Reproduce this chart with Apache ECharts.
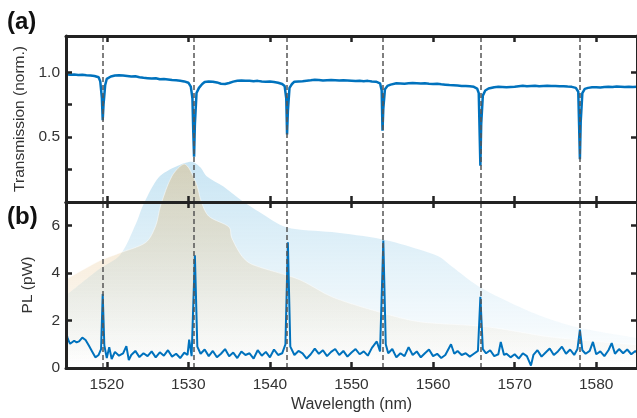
<!DOCTYPE html>
<html>
<head>
<meta charset="utf-8">
<script src="https://cdn.jsdelivr.net/npm/echarts@6/dist/echarts.min.js"></script>
<style>
html, body { margin: 0; padding: 0; background: #fff; }
#chart { width: 637px; height: 418px; }
</style>
</head>
<body>
<div id="chart"></div>
<script>
// resonance wavelengths (nm), dashed guides
var resonances = [1519.5, 1530.7, 1542.1, 1553.8, 1565.8, 1578.0];
var xTicks = [1520, 1530, 1540, 1550, 1560, 1570, 1580];

// (a) transmission, [wavelength, norm.]
var transmission = [
	[1515.0,0.985],[1515.5,0.982],[1516.0,0.984],[1516.5,0.980],[1517.0,0.982],[1517.5,0.978],
	[1518.0,0.976],[1518.5,0.972],[1519.0,0.962],[1519.2,0.93],[1519.4,0.80],[1519.5,0.63],
	[1519.6,0.75],[1519.8,0.90],[1520.0,0.95],[1520.5,0.968],[1521.0,0.975],[1521.5,0.978],
	[1522.0,0.976],[1522.5,0.972],[1523.0,0.968],[1523.5,0.970],[1524.0,0.962],[1524.5,0.958],
	[1525.0,0.955],[1525.5,0.952],[1526.0,0.954],[1526.5,0.946],[1527.0,0.948],[1527.5,0.944],
	[1528.0,0.940],[1528.5,0.938],[1529.0,0.935],[1529.5,0.930],[1530.0,0.920],[1530.3,0.89],
	[1530.5,0.80],[1530.6,0.55],[1530.7,0.35],[1530.8,0.60],[1531.0,0.84],[1531.3,0.88],[1531.7,0.91],
	[1532.0,0.925],[1532.5,0.930],[1533.0,0.928],[1533.5,0.922],[1534.0,0.912],[1534.5,0.910],
	[1535.0,0.918],[1535.5,0.928],[1536.0,0.935],[1536.5,0.936],[1537.0,0.934],[1537.5,0.935],
	[1538.0,0.932],[1538.5,0.934],[1539.0,0.930],[1539.5,0.928],[1540.0,0.930],[1540.5,0.926],
	[1541.0,0.920],[1541.5,0.910],[1541.8,0.895],[1542.0,0.80],[1542.1,0.52],[1542.2,0.70],
	[1542.4,0.88],[1542.7,0.91],[1543.0,0.928],[1543.5,0.930],[1544.0,0.932],[1544.5,0.935],
	[1545.0,0.938],[1545.5,0.942],[1546.0,0.940],[1546.5,0.936],[1547.0,0.938],[1547.5,0.940],
	[1548.0,0.938],[1548.5,0.936],[1549.0,0.938],[1549.5,0.937],[1550.0,0.935],[1550.5,0.933],
	[1551.0,0.935],[1551.5,0.932],[1552.0,0.934],[1552.5,0.930],[1553.0,0.928],[1553.5,0.915],
	[1553.7,0.86],[1553.8,0.55],[1553.9,0.72],[1554.1,0.87],[1554.4,0.895],[1554.8,0.905],
	[1555.0,0.910],[1555.5,0.916],[1556.0,0.914],[1556.5,0.912],[1557.0,0.915],[1557.5,0.918],
	[1558.0,0.916],[1558.5,0.914],[1559.0,0.915],[1559.5,0.912],[1560.0,0.910],[1560.5,0.912],
	[1561.0,0.908],[1561.5,0.905],[1562.0,0.902],[1562.5,0.900],[1563.0,0.898],[1563.5,0.895],
	[1564.0,0.895],[1564.5,0.892],[1565.0,0.888],[1565.4,0.875],[1565.6,0.84],[1565.8,0.28],
	[1565.9,0.60],[1566.1,0.82],[1566.4,0.86],[1566.8,0.875],[1567.0,0.880],[1567.5,0.885],
	[1568.0,0.888],[1568.5,0.886],[1569.0,0.884],[1569.5,0.886],[1570.0,0.888],[1570.5,0.892],
	[1571.0,0.896],[1571.5,0.892],[1572.0,0.894],[1572.5,0.896],[1573.0,0.893],[1573.5,0.895],
	[1574.0,0.897],[1574.5,0.895],[1575.0,0.894],[1575.5,0.892],[1576.0,0.893],[1576.5,0.890],
	[1577.0,0.888],[1577.5,0.880],[1577.8,0.85],[1577.9,0.60],[1578.0,0.33],[1578.1,0.62],
	[1578.3,0.84],[1578.6,0.872],[1579.0,0.880],[1579.5,0.884],[1580.0,0.885],[1580.5,0.883],
	[1581.0,0.886],[1581.5,0.888],[1582.0,0.886],[1582.5,0.890],[1583.0,0.888],[1583.5,0.886],
	[1584.0,0.889],[1584.5,0.887],[1585.0,0.888]
];

// (b) PL spectrum, [wavelength, pW]
var pl = [
	[1515.0,1.55],[1515.2,1.25],[1515.5,1.02],[1516.0,1.15],[1516.3,1.08],[1516.6,1.12],
	[1517.0,1.28],[1517.4,1.18],[1517.8,0.95],[1518.2,0.70],[1518.6,0.45],[1519.0,0.55],
	[1519.3,0.80],[1519.5,3.12],[1519.7,0.95],[1520.0,0.42],[1520.3,0.88],[1520.6,0.38],
	[1521.0,0.68],[1521.5,0.52],[1522.0,0.62],[1522.4,0.92],[1522.7,0.33],[1523.0,0.55],
	[1523.5,0.72],[1524.0,0.46],[1524.5,0.62],[1525.0,0.50],[1525.5,0.70],[1526.0,0.45],
	[1526.5,0.66],[1527.0,0.52],[1527.5,0.75],[1528.0,0.48],[1528.5,0.60],[1529.0,0.42],
	[1529.5,0.65],[1529.9,0.55],[1530.1,1.20],[1530.4,0.50],[1530.8,4.75],[1531.1,0.90],
	[1531.5,0.60],[1532.0,0.78],[1532.5,0.50],[1533.0,0.72],[1533.5,0.45],[1534.0,0.60],
	[1534.5,0.80],[1535.0,0.50],[1535.5,0.65],[1536.0,0.42],[1536.5,0.70],[1537.0,0.55],
	[1537.5,0.62],[1538.0,0.40],[1538.5,0.75],[1539.0,0.52],[1539.5,0.68],[1540.0,0.45],
	[1540.5,0.78],[1541.0,0.55],[1541.5,0.62],[1541.9,1.00],[1542.2,5.30],[1542.5,0.90],
	[1543.0,0.55],[1543.5,0.72],[1544.0,0.62],[1544.5,0.40],[1545.0,0.58],[1545.5,0.82],
	[1546.0,0.60],[1546.5,0.75],[1547.0,0.50],[1547.5,0.68],[1548.0,0.80],[1548.5,0.55],
	[1549.0,0.72],[1549.5,0.48],[1550.0,0.65],[1550.5,0.80],[1551.0,0.58],[1551.5,0.70],
	[1552.0,0.52],[1552.5,0.85],[1553.1,1.12],[1553.5,0.70],[1553.9,5.38],[1554.2,1.00],
	[1554.5,0.62],[1555.0,0.80],[1555.5,0.45],[1556.0,0.62],[1556.5,0.50],[1557.0,0.88],
	[1557.5,0.55],[1558.0,0.70],[1558.5,0.45],[1559.0,0.62],[1559.5,0.78],[1560.0,0.50],
	[1560.5,0.60],[1561.0,0.42],[1561.5,0.55],[1562.2,1.00],[1562.6,0.60],[1563.0,0.72],
	[1563.5,0.55],[1564.0,0.62],[1564.5,0.48],[1565.0,0.60],[1565.5,0.72],[1565.8,3.00],
	[1566.1,0.80],[1566.5,0.62],[1567.0,0.75],[1567.5,0.50],[1568.0,0.58],[1568.3,1.10],
	[1568.7,0.55],[1569.0,0.60],[1569.5,0.45],[1570.0,0.58],[1570.5,0.40],[1571.0,0.62],
	[1571.5,0.50],[1572.0,0.10],[1572.3,0.55],[1572.8,0.75],[1573.3,0.48],[1573.8,0.65],
	[1574.3,0.82],[1574.8,0.55],[1575.3,0.70],[1575.8,0.90],[1576.3,0.60],[1576.8,0.78],
	[1577.3,0.55],[1577.7,0.80],[1578.0,1.62],[1578.3,0.75],[1578.7,0.60],[1579.2,0.72],
	[1579.6,1.10],[1580.0,0.58],[1580.5,0.70],[1581.0,0.50],[1581.5,0.75],[1581.9,1.05],
	[1582.3,0.60],[1582.8,0.80],[1583.3,0.62],[1583.8,0.78],[1584.3,0.58],[1584.8,0.72],
	[1585.0,0.65]
];

// shaded emission envelopes (same pW scale, run up into panel a)
var envBlue = [
	[1515.0,3.05],[1519.0,4.15],[1521.6,4.75],[1523.6,6.1],[1524.5,6.9],[1526.4,8.05],
	[1528.5,8.5],[1530.4,8.7],[1531.5,8.45],[1532.2,8.1],[1534.3,7.65],[1536.6,7.04],
	[1538.7,6.58],[1542.0,5.94],[1547.6,5.73],[1553.7,5.43],[1558.3,5.0],[1560.7,4.7],
	[1562.3,4.28],[1565.6,3.44],[1570.5,2.59],[1573.8,2.12],[1577.9,1.7],[1585.0,1.27]
];
var envOrange = [
	[1515.0,3.73],[1519.0,4.5],[1521.5,4.84],[1524.8,5.3],[1526.0,6.0],[1526.6,6.85],
	[1528.0,8.1],[1529.5,8.6],[1530.9,7.85],[1531.6,7.0],[1532.5,6.4],[1535.0,5.94],
	[1535.3,5.5],[1536.6,4.7],[1537.8,4.37],[1543.6,3.73],[1547.6,3.0],[1553.7,2.33],
	[1558.3,1.95],[1566.5,1.74],[1574.6,1.3],[1585.0,0.98]
];

var ink = '#222';
var lineBlue = '#0072BD';

function xAxis(grid, pos, labels) {
	return {
		type: 'value', gridIndex: grid, position: pos, min: 1515, max: 1585, z: 10,
		axisLine: { onZero: false, lineStyle: { color: ink, width: 3 } },
		axisTick: { inside: true, length: 6, customValues: xTicks, lineStyle: { color: ink, width: 2.5 } },
		axisLabel: labels ? {
			customValues: xTicks, margin: 9, color: '#333', fontSize: 15.5,
			formatter: function (v) { return String(v); }
		} : { show: false },
		splitLine: { show: false }
	};
}
function yAxis(grid, pos, max, ticks, labels, fmt) {
	return {
		type: 'value', gridIndex: grid, position: pos, min: 0, max: max, z: 10,
		axisLine: { show: true, onZero: false, lineStyle: { color: ink, width: 3 } },
		axisTick: { show: true, inside: true, length: 6, customValues: ticks, lineStyle: { color: ink, width: 2.5 } },
		axisLabel: labels ? { customValues: labels, margin: 6, color: '#333', fontSize: 15.5, formatter: fmt } : { show: false },
		splitLine: { show: false }
	};
}
function dashes() {
	return {
		silent: true, symbol: 'none', label: { show: false },
		lineStyle: { type: [5, 3], color: '#555', width: 1.5 },
		data: resonances.map(function (v) { return { xAxis: v }; })
	};
}
function fade(r, g, b, a) {
	return new echarts.graphic.LinearGradient(0, 0, 0, 1, [
		{ offset: 0, color: 'rgba(' + r + ',' + g + ',' + b + ',' + a + ')' },
		{ offset: 1, color: 'rgba(' + r + ',' + g + ',' + b + ',0)' }
	]);
}

var chart = echarts.init(document.getElementById('chart'));
var tA = yAxis(0, 'left', 1.28, [0.25, 0.5, 0.75, 1], [0.5, 1], function (v) { return v.toFixed(1); });
tA.name = 'Transmission (norm.)';
tA.nameLocation = 'middle';
tA.nameGap = 30;
tA.nameTextStyle = { color: '#333', fontSize: 15.5 };
var pA = yAxis(1, 'left', 7, [2, 4, 6], [0, 2, 4, 6]);
pA.name = 'PL (pW)';
pA.nameLocation = 'middle';
pA.nameGap = 30;
pA.nameTextStyle = { color: '#333', fontSize: 15.5 };
var wA = xAxis(1, 'bottom', true);
wA.name = 'Wavelength (nm)';
wA.nameLocation = 'middle';
wA.nameGap = 29;
wA.nameTextStyle = { color: '#333', fontSize: 16 };

chart.setOption({
	animation: false,
	textStyle: { fontFamily: 'Liberation Sans, Arial, sans-serif' },
	title: [
		{ text: '(a)', left: 7, top: 10, padding: 0, textStyle: { fontSize: 24, fontWeight: 'bold', color: '#111' } },
		{ text: '(b)', left: 7, top: 205, padding: 0, textStyle: { fontSize: 24, fontWeight: 'bold', color: '#111' } }
	],
	grid: [
		{ left: 66, right: -1, top: 36, height: 166 },
		{ left: 66, right: -1, top: 202, height: 166 }
	],
	xAxis: [xAxis(0, 'bottom', false), xAxis(0, 'top', false), wA, xAxis(1, 'top', false)],
	yAxis: [tA, yAxis(0, 'right', 1.28, [0.5, 1]), pA, yAxis(1, 'right', 7, [2, 4, 6])],
	series: [
		{
			type: 'line', xAxisIndex: 2, yAxisIndex: 2, data: envBlue, smooth: 0.3, showSymbol: false,
			clip: false, silent: true, z: 1, lineStyle: { width: 0 },
			areaStyle: { color: fade(165, 212, 236, 0.85) }
		},
		{
			type: 'line', xAxisIndex: 2, yAxisIndex: 2, data: envOrange, smooth: 0.3, showSymbol: false,
			clip: false, silent: true, z: 1, lineStyle: { width: 1, color: '#fff', opacity: 0.5 },
			areaStyle: { color: fade(225, 180, 110, 0.6) }
		},
		{
			type: 'line', xAxisIndex: 2, yAxisIndex: 2, data: pl, showSymbol: false, z: 3,
			lineStyle: { color: lineBlue, width: 2 }, markLine: dashes()
		},
		{
			type: 'line', xAxisIndex: 0, yAxisIndex: 0, data: transmission, showSymbol: false, z: 3,
			lineStyle: { color: lineBlue, width: 2.5 }, markLine: dashes()
		}
	]
});
</script>
</body>
</html>
